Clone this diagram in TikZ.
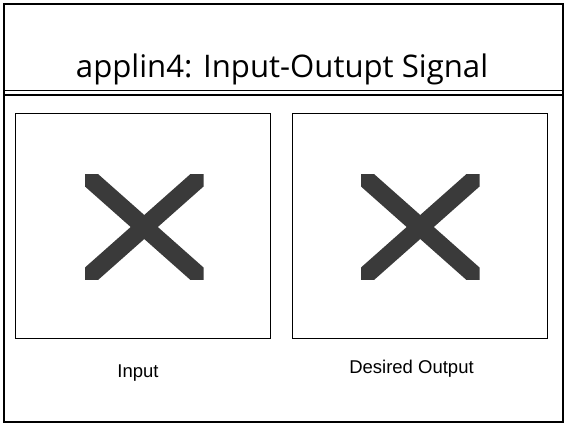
\documentclass[tikz,border=0pt]{standalone}
\usepackage{fontspec}
\setmainfont{Liberation Sans}
\newfontfamily\titlefont{Open Sans}
\usetikzlibrary{calc}
\definecolor{crossgray}{RGB}{58,58,58}
\tikzset{
  frame/.style={draw=black, line width=2pt},
  panel/.style={draw=black, line width=1.3pt},
  xarm/.style={draw=crossgray, line width=18pt},
  caption/.style={font=\fontsize{18.5}{22}\selectfont, anchor=base, inner sep=0pt},
  titletext/.style={anchor=base, inner sep=0pt}
}
% a grey cross filling the rectangle from #1 to #2
\newcommand\greycross[2]{%
  \begin{scope}
    \clip #1 rectangle #2;
    \draw[xarm] ($#1!-0.2!#2$) -- ($#1!1.2!#2$);
    \path #1 coordinate (ca) #2 coordinate (cb);
    \draw[xarm] ($(ca|-cb)!-0.2!(cb|-ca)$) -- ($(ca|-cb)!1.2!(cb|-ca)$);
  \end{scope}}
\begin{document}
\begin{tikzpicture}[x=1pt,y=-1pt]
\useasboundingbox (0,0) rectangle (564,424);
\fill[white] (0,0) rectangle (564,424);

% outer frame
\draw[frame] (3.5,3.5) rectangle (562.5,421.5);

% title
\node[titletext] (title) at (282,77.3)
  {\resizebox{412pt}{!}{\titlefont applin4: Input-Outupt Signal}};

% double rule under the title
\draw[line width=1pt] (3,90.5) -- (562,90.5);
\draw[line width=2.6pt] (3,95) -- (562,95);

% two panels
\draw[panel] (15.5,113.5) rectangle (270.5,338.5);
\draw[panel] (292.5,113.5) rectangle (547.5,338.5);

% crosses
\greycross{(85,174.5)}{(203.5,279.5)}
\greycross{(361,174.5)}{(479.5,279.5)}

% captions
\node[caption] (inp) at (138,377) {Input};
\node[caption] (outp) at (411.5,373.3) {Desired Output};
\end{tikzpicture}
\end{document}
